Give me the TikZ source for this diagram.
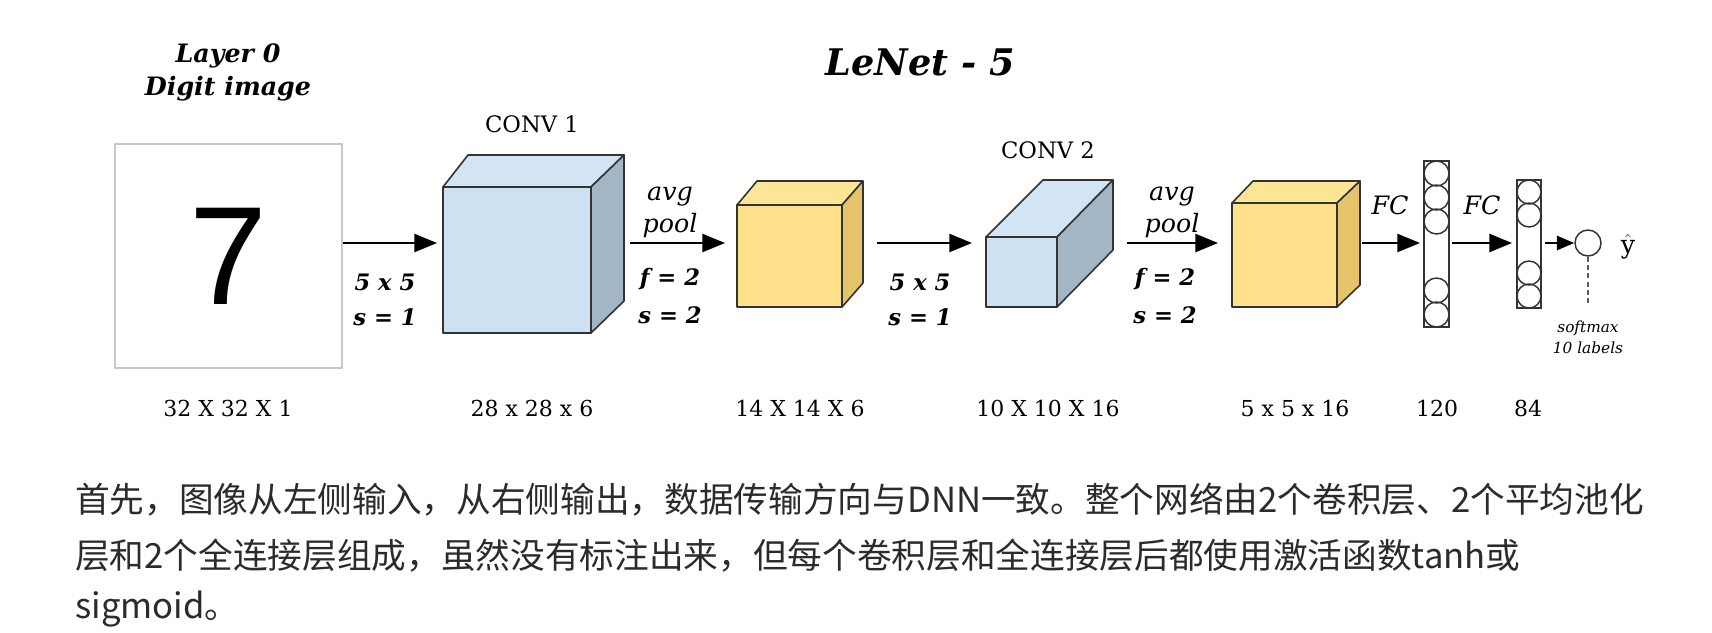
\documentclass[tikz,border=0pt]{standalone}
\usepackage{fontspec}
\setmainfont{DejaVu Serif}
\newfontfamily\cjk{Noto Sans CJK SC}
\newfontfamily\digitfont{Liberation Sans}
\usetikzlibrary{arrows.meta}
\definecolor{edgegray}{HTML}{333333}
\definecolor{framegray}{HTML}{C8C8C8}
\definecolor{bodygray}{HTML}{2B2B2B}
\definecolor{convfront}{HTML}{CDE1F2}
\definecolor{convtop}{HTML}{D3E5F5}
\definecolor{convside}{HTML}{A3B6C6}
\definecolor{poolfront}{HTML}{FEE18A}
\definecolor{pooltop}{HTML}{FDE596}
\definecolor{poolside}{HTML}{E6C26A}

\begin{document}
\begin{tikzpicture}[x=0.75pt,y=-0.75pt,
  edgebox/.style={draw=edgegray,line width=1.2pt,line join=round,outer sep=0pt,inner sep=0pt},
  convbox/.style={edgebox,fill=convfront},
  poolbox/.style={edgebox,fill=poolfront},
  flow/.style={line width=1.8pt,-{Triangle[length=17pt,width=13.5pt]}},
  neuron/.style={circle,draw=edgegray,line width=1.1pt,minimum size=18.75pt,inner sep=0pt},
  column/.style={draw=edgegray,line width=1.4pt,inner sep=0pt,outer sep=0pt},
  bolditlab/.style={font=\bfseries\itshape\fontsize{17}{20}\selectfont,anchor=base},
  itlab/.style={font=\itshape\fontsize{19}{22}\selectfont,anchor=base},
  convlab/.style={font=\fontsize{17}{20}\selectfont,anchor=base},
  dimlab/.style={font=\fontsize{16.5}{19}\selectfont,anchor=base},
  cjkline/.style={font=\cjk\fontsize{26}{30}\selectfont,text=bodygray,anchor=base west}]
\tikzstyle{every node}+=[inner sep=0pt]
\fill[white] (0,0) rectangle (1712,632);
\useasboundingbox (0,0) rectangle (1712,632);
\coordinate (ay) at (0,243);

% titles
\node[font=\bfseries\itshape\fontsize{27.5}{30}\selectfont,anchor=base] (title) at (920,75) {LeNet - 5};
\node[font=\bfseries\itshape\fontsize{19}{21}\selectfont,anchor=base] (lay0) at (228,62) {Layer 0};
\node[font=\bfseries\itshape\fontsize{19}{21}\selectfont,anchor=base] (digit) at (228,95) {Digit image};

% input image
\node[draw=framegray,line width=1.2pt,fill=white,minimum width=170.25pt,minimum height=168pt,
  font=\digitfont\fontsize{105}{105}\selectfont] (img) at (228.5,256) {7};

% conv 1
\node[convbox,minimum width=111pt,minimum height=109.5pt] (conv1) at (517,260) {};
\filldraw[edgebox,fill=convtop] (conv1.north west) -- ++(25,-32) -- ++(156,0) coordinate (conv1-r) -- (conv1.north east) -- cycle;
\filldraw[edgebox,fill=convside] (conv1.north east) -- (conv1-r) -- ++(0,146) -- (conv1.south east) -- cycle;
\node[convlab] (conv1lab) at (532,132) {CONV 1};

% pool 1
\node[poolbox,minimum width=78.75pt,minimum height=76.5pt] (pool1) at (789.5,256) {};
\filldraw[edgebox,fill=pooltop] (pool1.north west) -- ++(20,-24) -- ++(106,0) coordinate (pool1-r) -- (pool1.north east) -- cycle;
\filldraw[edgebox,fill=poolside] (pool1.north east) -- (pool1-r) -- ++(0,102) -- (pool1.south east) -- cycle;

% conv 2
\node[convbox,minimum width=53.25pt,minimum height=52.5pt] (conv2) at (1021.5,272) {};
\filldraw[edgebox,fill=convtop] (conv2.north west) -- ++(57,-57) -- ++(70,0) coordinate (conv2-r) -- (conv2.north east) -- cycle;
\filldraw[edgebox,fill=convside] (conv2.north east) -- (conv2-r) -- ++(0,70) -- (conv2.south east) -- cycle;
\node[convlab] (conv2lab) at (1048,158) {CONV 2};

% pool 2
\node[poolbox,minimum width=78.75pt,minimum height=78pt] (pool2) at (1284.5,255) {};
\filldraw[edgebox,fill=pooltop] (pool2.north west) -- ++(21,-22) -- ++(107,0) coordinate (pool2-r) -- (pool2.north east) -- cycle;
\filldraw[edgebox,fill=poolside] (pool2.north east) -- (pool2-r) -- ++(0,104) -- (pool2.south east) -- cycle;

% fully connected layers
\node[column,minimum width=18.75pt,minimum height=124.5pt] (fc1) at (1436.5,244) {};
\foreach \y [count=\i] in {173.5,197.5,221.5,290.5,314.5}
  \node[neuron] (h-\i) at (1436.5,\y) {};
\node[column,minimum width=18pt,minimum height=96pt] (fc2) at (1529,244) {};
\foreach \y [count=\i] in {192,215,273,296}
  \node[neuron,minimum size=18pt] (g-\i) at (1529,\y) {};
\node[neuron,minimum size=19.5pt] (yout) at (1588,243) {};
\node[font=\fontsize{19}{22}\selectfont] (yhat) at (1628,247) {$\hat{\mathrm{y}}$};
\coordinate (smtop) at (1588,303);
\draw[draw=edgegray!80,line width=1pt,dash pattern=on 3.75pt off 2.5pt] (yout.south) -- (smtop);
\node[font=\itshape\fontsize{11.5}{13}\selectfont,anchor=base] (sm1) at (1588,332) {softmax};
\node[font=\itshape\fontsize{11.5}{13}\selectfont,anchor=base] (sm2) at (1588,353) {10 labels};

% arrows
\draw[flow,shorten >=4.5pt] (img.east |- ay) -- (conv1.west |- ay);
\draw[flow,shorten <=4.5pt,shorten >=9pt] (conv1-r |- ay) -- (pool1.west |- ay);
\draw[flow,shorten <=10.5pt,shorten >=10.5pt] (pool1-r |- ay) -- (conv2.west |- ay);
\draw[flow,shorten <=10.5pt,shorten >=10.5pt] (conv2-r |- ay) -- (pool2.west |- ay);
\draw[flow,shorten <=1.5pt,shorten >=3pt] (pool2-r |- ay) -- (fc1.west |- ay);
\draw[flow,shorten <=2.25pt,shorten >=3.75pt] (fc1.east |- ay) -- (fc2.west |- ay);
\draw[line width=1.8pt,-{Triangle[length=13pt,width=10.5pt]},shorten <=3pt] (fc2.east |- ay) -- (yout.west);

% arrow labels
\node[bolditlab] (k1) at (385,290) {5 x 5};
\node[bolditlab] (s1) at (385,325) {s = 1};
\node[itlab] (avg1) at (670,200) {avg};
\node[itlab] (pool1lab) at (670,232) {pool};
\node[bolditlab] (f1) at (670,285) {f = 2};
\node[bolditlab] (s2) at (670,323) {s = 2};
\node[bolditlab] (k2) at (920,290) {5 x 5};
\node[bolditlab] (s3) at (920,325) {s = 1};
\node[itlab] (avg2) at (1172,200) {avg};
\node[itlab] (pool2lab) at (1172,232) {pool};
\node[bolditlab] (f2) at (1165,285) {f = 2};
\node[bolditlab] (s4) at (1165,323) {s = 2};
\node[font=\itshape\fontsize{19}{22}\selectfont,anchor=base] (fclab1) at (1390,214) {FC};
\node[font=\itshape\fontsize{19}{22}\selectfont,anchor=base] (fclab2) at (1482,214) {FC};

% sizes
\node[dimlab] (dim0) at (228,416) {32 X 32 X 1};
\node[dimlab] (dim1) at (532,416) {28 x 28 x 6};
\node[dimlab] (dim2) at (800,416) {14 X 14 X 6};
\node[dimlab] (dim3) at (1048,416) {10 X 10 X 16};
\node[dimlab] (dim4) at (1295,416) {5 x 5 x 16};
\node[dimlab] (dim5) at (1437,416) {120};
\node[dimlab] (dim6) at (1528,416) {84};

% caption
\node[cjkline] (line1) at (75,512) {首先，图像从左侧输入，从右侧输出，数据传输方向与DNN一致。整个网络由2个卷积层、2个平均池化};
\node[cjkline] (line2) at (75,568) {层和2个全连接层组成，虽然没有标注出来，但每个卷积层和全连接层后都使用激活函数tanh或};
\node[cjkline] (line3) at (75,618) {sigmoid。};
\end{tikzpicture}
\end{document}
